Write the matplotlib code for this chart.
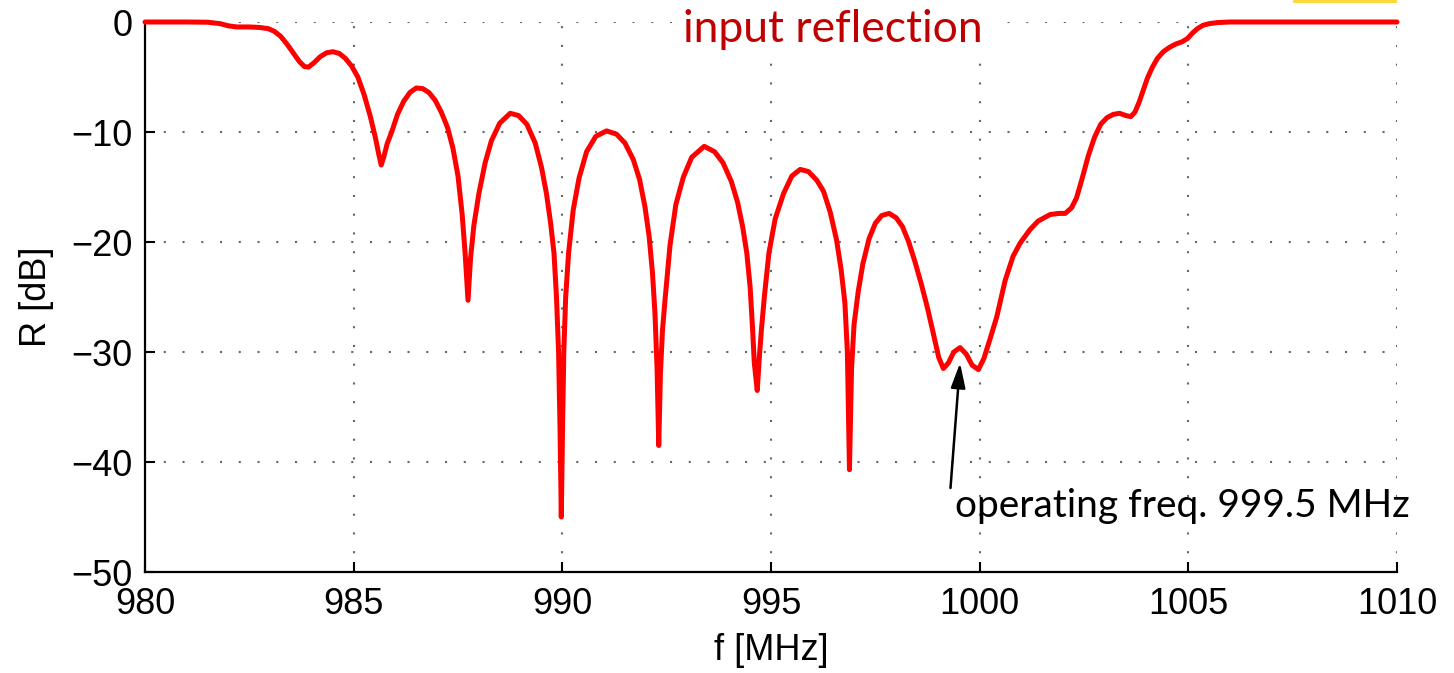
import matplotlib
matplotlib.use("Agg")
import matplotlib.pyplot as plt
from matplotlib.patches import FancyBboxPatch

# ---- data ----
freq_mhz = [980.0, 981.0, 981.5, 981.8, 982.0, 982.2, 982.5, 982.75, 982.95, 983.1,
            983.25, 983.4, 983.55, 983.7, 983.82, 983.92, 984.05, 984.2, 984.35, 984.5,
            984.65, 984.8, 984.95, 985.1, 985.25, 985.4, 985.52, 985.6, 985.66, 985.72,
            985.8, 985.92, 986.05, 986.2, 986.35, 986.5, 986.65, 986.8, 986.95, 987.1,
            987.25, 987.38, 987.5, 987.6, 987.67, 987.74, 987.8, 987.88, 988.0, 988.15,
            988.3, 988.5, 988.75, 988.95, 989.15, 989.35, 989.5, 989.62, 989.72, 989.8,
            989.86, 989.91, 989.945, 989.975, 990.005, 990.035, 990.08, 990.15, 990.26, 990.4,
            990.58, 990.8, 991.06, 991.3, 991.5, 991.7, 991.85, 991.98, 992.08, 992.16,
            992.22, 992.27, 992.31, 992.35, 992.4, 992.46, 992.58, 992.72, 992.9, 993.1,
            993.4, 993.65, 993.85, 994.05, 994.2, 994.32, 994.42, 994.5, 994.56, 994.6,
            994.67, 994.72, 994.77, 994.84, 994.95, 995.1, 995.3, 995.5, 995.7, 995.9,
            996.1, 996.26, 996.42, 996.57, 996.68, 996.77, 996.83, 996.88, 996.93, 996.99,
            997.09, 997.2, 997.35, 997.5, 997.65, 997.83, 998.0, 998.15, 998.3, 998.45,
            998.6, 998.75, 998.9, 999.02, 999.13, 999.25, 999.38, 999.53, 999.68, 999.82,
            999.97, 1000.1, 1000.25, 1000.41, 1000.61, 1000.8, 1000.97, 1001.2, 1001.4, 1001.69,
            1001.9, 1002.05, 1002.2, 1002.32, 1002.45, 1002.6, 1002.75, 1002.9, 1003.05, 1003.2,
            1003.35, 1003.5, 1003.62, 1003.72, 1003.82, 1003.92, 1004.02, 1004.14, 1004.26, 1004.4,
            1004.55, 1004.7, 1004.85, 1004.98, 1005.1, 1005.22, 1005.35, 1005.5, 1005.7, 1006.0,
            1010.0]
refl_db = [0.0, 0.0, -0.02, -0.15, -0.35, -0.45, -0.45, -0.5, -0.6, -0.85,
           -1.3, -2.0, -2.8, -3.6, -4.05, -4.1, -3.7, -3.15, -2.8, -2.7,
           -2.85, -3.3, -4.0, -5.0, -6.6, -8.6, -10.5, -12.0, -13.0, -12.3,
           -11.1, -9.9, -8.4, -7.2, -6.4, -6.0, -6.05, -6.4, -7.1, -8.2,
           -9.6, -11.5, -14.0, -17.5, -21.0, -25.3, -21.5, -18.5, -15.6, -12.8,
           -10.8, -9.2, -8.3, -8.5, -9.3, -11.0, -13.2, -15.6, -18.3, -21.0,
           -25.0, -30.0, -37.0, -45.0, -37.0, -30.0, -25.0, -21.0, -17.1, -14.2,
           -11.8, -10.4, -9.9, -10.2, -11.0, -12.5, -14.3, -16.8, -19.5, -22.8,
           -26.5, -31.5, -38.5, -32.0, -28.0, -25.3, -20.3, -16.6, -14.1, -12.3,
           -11.3, -11.8, -12.8, -14.5, -16.4, -18.6, -21.0, -24.1, -28.0, -31.0,
           -33.5, -30.5, -28.0, -25.0, -21.0, -17.9, -15.6, -14.0, -13.4, -13.6,
           -14.4, -15.4, -17.3, -19.8, -22.5, -25.5, -30.0, -40.7, -31.5, -27.5,
           -24.5, -22.0, -19.7, -18.3, -17.6, -17.4, -17.8, -18.6, -20.0, -21.8,
           -23.8, -26.0, -28.5, -30.5, -31.5, -31.0, -30.0, -29.6, -30.2, -31.2,
           -31.6, -30.6, -28.8, -26.8, -23.5, -21.3, -20.1, -18.9, -18.1, -17.5,
           -17.4, -17.4, -16.9, -16.0, -14.3, -12.2, -10.5, -9.3, -8.7, -8.4,
           -8.3, -8.5, -8.6, -8.2, -7.3, -6.2, -5.1, -4.1, -3.3, -2.7,
           -2.3, -2.0, -1.8, -1.5, -1.0, -0.6, -0.3, -0.15, -0.05, 0.0,
           0.0]
x_ticks = [980, 985, 990, 995, 1000, 1005, 1010]
y_ticks = [0, -10, -20, -30, -40, -50]
title_text = "input reflection"
note_text = "operating freq. 999.5 MHz"
operating_freq = 999.53
operating_db = -31.0

W, H = 1454, 673
fig = plt.figure(figsize=(W / 100, H / 100), dpi=100)
ax = fig.add_axes([145 / W, 1 - 572 / H, (1397 - 145) / W, (572 - 22) / H])

tick_font = "Liberation Sans"
label_font = ["Lato", "DejaVu Sans"]

ax.plot(freq_mhz, refl_db, color="#ff0000", lw=3.6, solid_joinstyle="round",
        solid_capstyle="round", zorder=3, clip_on=False)

ax.set_xlim(980, 1010)
ax.set_ylim(-50, 0)
ax.set_xticks(x_ticks)
ax.set_yticks(y_ticks)
ax.set_xticklabels([str(v) for v in x_ticks], fontfamily=tick_font, fontsize=26)
ax.set_yticklabels([str(v).replace("-", "\u2212") for v in y_ticks],
                   fontfamily=tick_font, fontsize=26)
ax.tick_params(direction="in", length=7, width=1.5, color="black")
ax.tick_params(axis="x", pad=11)
ax.tick_params(axis="y", pad=9)
ax.grid(True, color="#666666", linestyle=(0, (1, 8)), lw=1.5)
for s in ("top", "right"):
    ax.spines[s].set_visible(False)
for s in ("left", "bottom"):
    ax.spines[s].set_linewidth(1.6)
    ax.spines[s].set_color("black")

ax.set_xlabel("f [MHz]", fontfamily=tick_font, fontsize=26, labelpad=8)
ax.set_ylabel("R [dB]", fontfamily=tick_font, fontsize=26, labelpad=12)

ax.text(996.49, -1.8, title_text, color="#c00000", fontsize=32, family=label_font,
        ha="center", va="baseline", zorder=4,
        bbox=dict(facecolor="white", edgecolor="none", pad=6))

ax.annotate(note_text, xy=(operating_freq, operating_db), xytext=(999.41, -45.0),
            fontsize=28, family=label_font, ha="left", va="baseline", zorder=5,
            arrowprops=dict(arrowstyle="-|>,head_length=0.75,head_width=0.22",
                            mutation_scale=20, color="black", lw=1.8,
                            shrinkA=0, shrinkB=0, patchA=None, relpos=(-0.01, 1.0)))

# small yellow highlight at the top edge
fig.patches.append(FancyBboxPatch((1293 / W, 1 - 3 / H), (1397 - 1293) / W, 6 / H,
                                  boxstyle="round,pad=0", transform=fig.transFigure,
                                  facecolor="#ffd83a", edgecolor="none"))

fig.savefig("out.png", dpi=100)
